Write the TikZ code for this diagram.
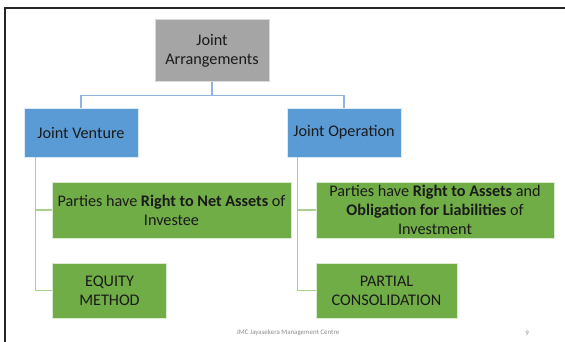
\documentclass[tikz,border=0pt]{standalone}
\usepackage{fontspec}
\setmainfont{Carlito}
\usetikzlibrary{positioning, calc}

\definecolor{topgray}{HTML}{A5A5A5}
\definecolor{jablue}{HTML}{5B9BD5}
\definecolor{jagreen}{HTML}{70AD47}
\definecolor{bluelink}{HTML}{8FB4E0}
\definecolor{greenlink}{HTML}{A9D18E}
\definecolor{boxtext}{HTML}{1A1A1A}
\definecolor{foottext}{HTML}{8C8C8C}

\tikzset{
  jabox/.style={rectangle, draw=white!85!black, line width=0.8pt, align=center, inner sep=2pt,
    text=boxtext, font=\fontsize{16.2}{19}\selectfont},
  topbox/.style={jabox, fill=topgray, minimum width=114pt, minimum height=62pt},
  kindbox/.style={jabox, fill=jablue, draw=white!80!jablue, minimum width=114pt, minimum height=49pt},
  factbox/.style={jabox, fill=jagreen, draw=white!75!jagreen, minimum height=56pt},
  bluelink/.style={draw=bluelink, line width=1.2pt},
  greenlink/.style={draw=greenlink, line width=1.2pt}
}

\begin{document}
\begin{tikzpicture}[x=1pt, y=-1pt]

                \useasboundingbox (0,0) rectangle (565,342);
                % slide frame
                \draw[line width=1.5pt, black!85] (5,342) -- (5,8) -- (565,8);

                \node (ja) [topbox] at (212,50.5) {Joint\\Arrangements};
                \node (jv) [kindbox] at (81,132.5) {Joint Venture};
                \node (jo) [kindbox] at (344,132.5) {Joint Operation};

                \node (rna) [factbox, minimum width=239pt] at (171.5,210)
                        {Parties have \textbf{Right to Net Assets} of\\Investee};
                \node (eq) [factbox, minimum width=114pt, minimum height=55pt] at (109.5,290.5)
                        {EQUITY\\METHOD};
                \node (rao) [factbox, minimum width=238pt] at (435,210)
                        {Parties have \textbf{Right to Assets} and\\\textbf{Obligation for Liabilities} of\\Investment};
                \node (pc) [factbox, minimum width=141pt, minimum height=55pt] at (386.5,290.5)
                        {PARTIAL\\CONSOLIDATION};

                \draw[bluelink] (ja.south) -- ++(0,14) -| (jv.north);
                \draw[bluelink] (ja.south) -- ++(0,14) -| (jo.north);

                \draw[greenlink] ($(jv.south west)+(12,0)$) |- (rna.west);
                \draw[greenlink] ($(jv.south west)+(12,0)$) |- (eq.west);
                \draw[greenlink] ($(jo.south west)+(11,0)$) |- (rao.west);
                \draw[greenlink] ($(jo.south west)+(11,0)$) |- (pc.west);

                \node (foot) [text=foottext, font=\fontsize{6.9}{8}\selectfont] at (288,333) {JMC Jayasekera Management Centre};
                \node (page) [text=foottext, font=\fontsize{6.9}{8}\selectfont] at (527,333) {9};
\end{tikzpicture}
\end{document}
